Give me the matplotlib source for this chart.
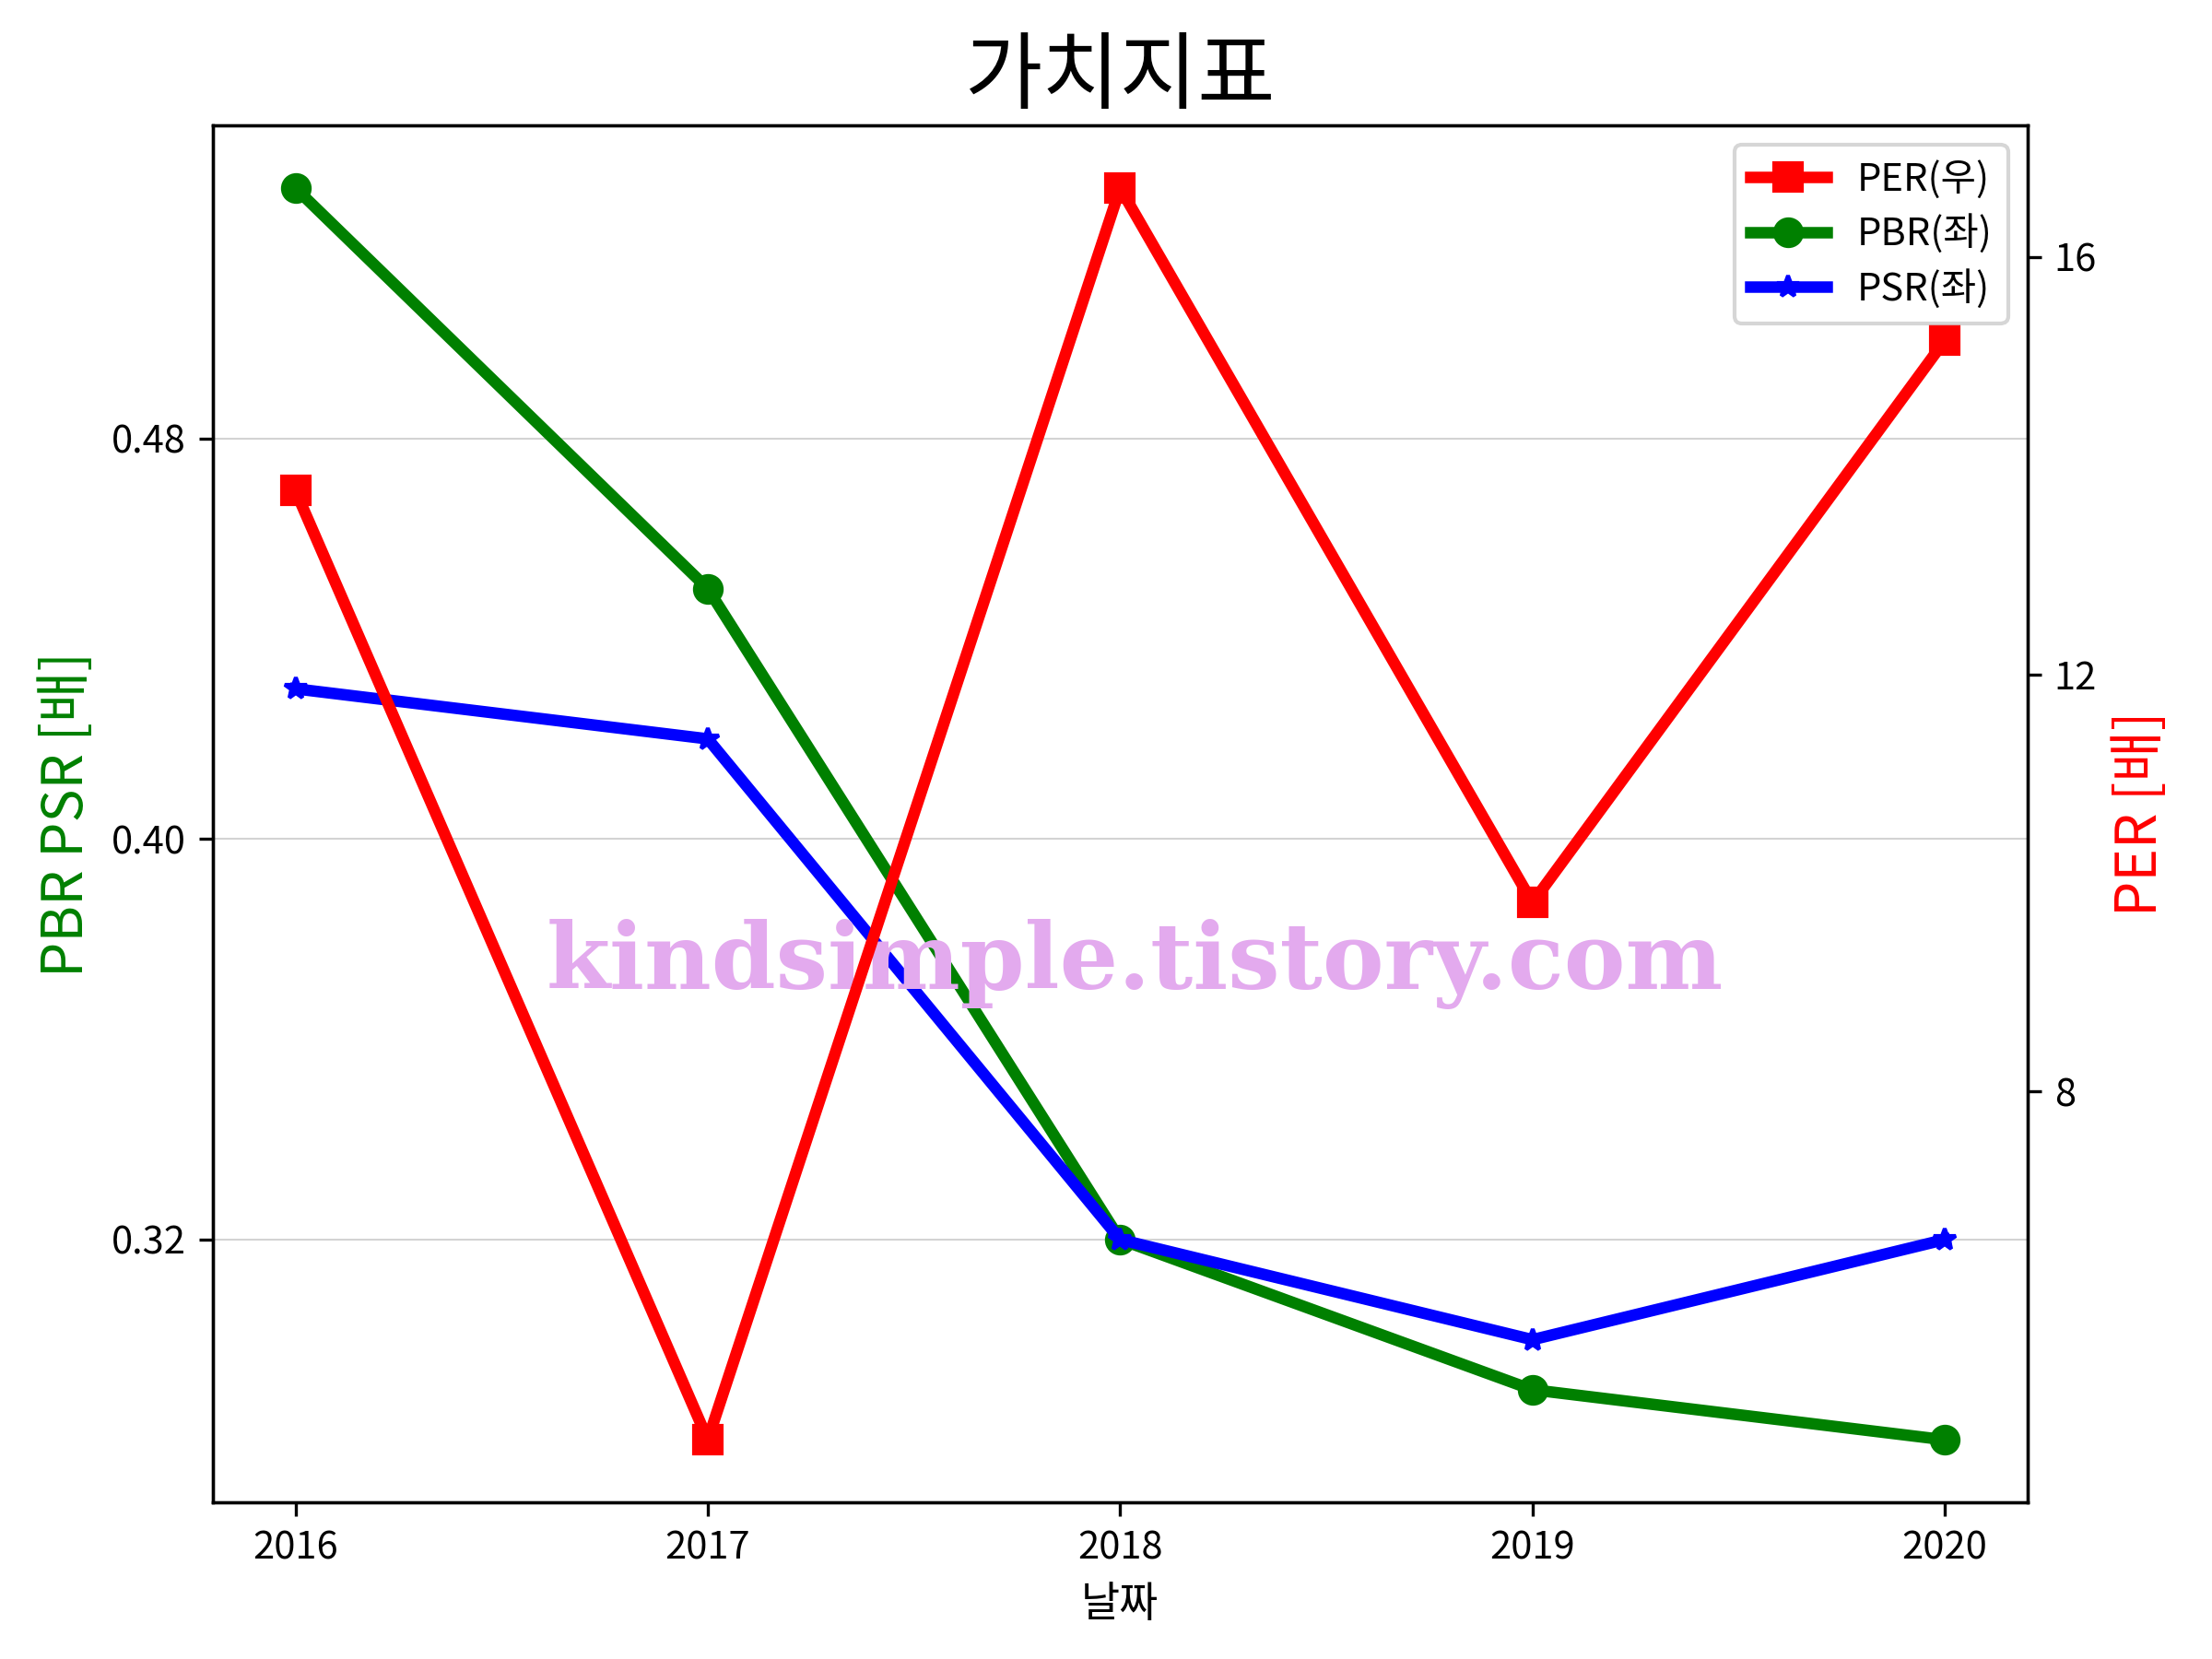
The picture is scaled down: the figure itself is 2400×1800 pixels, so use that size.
import numpy as np
import matplotlib
matplotlib.use('Agg')
from matplotlib import pyplot as plt

plt.rcParams['font.family'] = ['Noto Sans CJK KR', 'DejaVu Sans']
plt.rcParams['axes.unicode_minus'] = False

years = ['2016', '2017', '2018', '2019', '2020']
per = [13.76, 4.66, 16.66, 9.81, 15.20]
pbr = [0.530, 0.450, 0.320, 0.290, 0.280]
psr = [0.430, 0.420, 0.320, 0.300, 0.320]
left_ticks = [0.32, 0.40, 0.48]
right_ticks = [8, 12, 16]

fig, ax = plt.subplots(figsize=(8, 6), dpi=300)
fig.subplots_adjust(left=0.0963, right=0.9165, top=0.9243, bottom=0.0944)

l2, = ax.plot(years, pbr, color='green', marker='o', lw=3, ms=7, label='PBR(좌)')
l3, = ax.plot(years, psr, color='blue', marker='*', lw=3, ms=6, label='PSR(좌)')
ax.set_yticks(left_ticks)
ax.grid(axis='y', color='lightgray', lw=0.5)
ax.set_xlabel('날짜', fontsize=11)
ax.set_ylabel('PBR PSR [배]', color='green', fontsize=14.5)
ax.set_title('가치지표', fontsize=22)

# watermark
ax.text(0.513, 0.419, 'kindsimple.tistory.com', transform=fig.transFigure,
        ha='center', va='center', fontsize=24, fontweight='bold',
        family='DejaVu Serif', color='#E3AAEE', zorder=5)

ax2 = ax.twinx()
l1, = ax2.plot(years, per, color='red', marker='s', lw=3, ms=7, label='PER(우)')
ax2.set_yticks(right_ticks)
ax2.set_ylabel('PER [배]', color='red', fontsize=14.5)

ax2.legend(handles=[l1, l2, l3], loc='upper right', fontsize=10, labelspacing=0.4)

plt.savefig('out.png')
